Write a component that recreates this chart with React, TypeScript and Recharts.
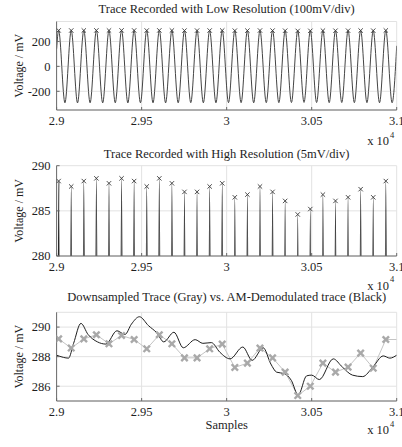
import React from 'react';
import { LineChart, Line, XAxis, YAxis, CartesianGrid } from 'recharts';

// ---------- data ----------
const sampleTicks = [29000, 29500, 30000, 30500, 31000];

const peakX = [29012, 29086, 29160, 29234, 29308, 29382, 29456, 29530, 29604, 29678, 29752, 29826, 29900, 29974,
  30048, 30122, 30196, 30270, 30344, 30418, 30492, 30566, 30640, 30714, 30788, 30862, 30936];
const peakV = [288.3, 287.7, 288.3, 288.6, 288.05, 288.6, 288.3, 287.7, 288.6, 288.05, 287.1, 287.1, 287.7, 288.05,
  286.5, 286.8, 287.7, 287.1, 286.1, 284.6, 285.2, 286.8, 286.1, 286.5, 287.4, 286.5, 288.3];
const troughX = [29049, 29123, 29197, 29271, 29345, 29419, 29493, 29567, 29641, 29715, 29789, 29863, 29937, 30011,
  30085, 30159, 30233, 30307, 30381, 30455, 30529, 30603, 30677, 30751, 30825, 30899, 30973];
const troughV = [-292, -293, -292, -293, -292, -293, -292, -292, -293, -292, -291, -292, -292, -291,
  -291, -292, -291, -291, -290, -289, -290, -291, -290, -291, -291, -292, -292];
const waveStartX = 29000;
const waveStartV = 140;
const waveEndX = 31000;
const waveEndV = 165;

const downX = [29012, 29086, 29160, 29234, 29308, 29382, 29456, 29530, 29604, 29678, 29752, 29826, 29900, 29974,
  30048, 30122, 30196, 30270, 30344, 30418, 30492, 30566, 30640, 30714, 30788, 30862, 30936, 31000];
const downV = [289.2, 288.58, 289.2, 289.48, 288.87, 289.43, 289.16, 288.53, 289.48, 288.87, 287.92, 287.92, 288.53, 288.85,
  287.27, 287.56, 288.58, 287.92, 286.95, 285.37, 286.0, 287.56, 286.95, 287.29, 288.24, 287.22, 289.16, 289.16];

const demodX = [29000, 29040, 29070, 29100, 29143, 29185, 29240, 29290, 29355, 29402, 29440, 29487, 29540, 29590,
  29630, 29690, 29745, 29815, 29860, 29910, 29960, 30020, 30095, 30150, 30215, 30260, 30294, 30340, 30380, 30421,
  30470, 30500, 30545, 30627, 30680, 30740, 30800, 30860, 30921, 30960, 31000];
const demodV = [288.1, 287.95, 287.9, 288.9, 290.25, 289.5, 289.0, 288.85, 289.75, 289.5, 290.2, 290.7, 290.1, 289.6,
  289.0, 289.65, 288.6, 289.15, 288.9, 288.95, 288.3, 287.85, 288.65, 287.75, 288.6, 287.5, 286.95, 286.85, 286.4, 285.4,
  286.7, 286.75, 286.45, 287.85, 287.3, 286.75, 286.65, 287.3, 288.05, 287.9, 288.1];

const lowTicks = [-200, 0, 200];
const highTicks = [280, 285, 290];
const demodTicks = [286, 288, 290];

// ---------- derived tables ----------
type Row = { x: number; v: number; peak?: number };
const waveRows: Row[] = [{ x: waveStartX, v: waveStartV }];
peakX.forEach((px, i) => {
  waveRows.push({ x: px, v: peakV[i], peak: peakV[i] });
  waveRows.push({ x: troughX[i], v: troughV[i] });
});
waveRows.push({ x: waveEndX, v: waveEndV });

const downRows = downX.map((x, i) => ({ x, v: downV[i] }));
const downMarks = downX.slice(0, peakX.length).map((x, i) => ({ x, v: downV[i] }));
const demodRows = demodX.map((x, i) => ({ x, v: demodV[i] }));

// ---------- styling ----------
const FONT = '"Liberation Serif", "Times New Roman", Times, serif';
const TXT = '#1e1e1e';
const AXIS = '#6a6a6a';
const GRID = '#e2e2e2';
const W = 402;
const H = 447;
const PL = 56.6;
const PR = 396.7;

const XTick = (props: any) => {
  const { x, y, payload } = props;
  const v = payload.value / 10000;
  return (
    <g>
      <line x1={x} x2={x} y1={y} y2={y - 3} stroke={AXIS} strokeWidth={1} />
      <text x={x} y={y + 15} textAnchor="middle" fontFamily={FONT} fontSize={12.5} fill={TXT}>{String(v)}</text>
    </g>
  );
};

const YTick = (props: any) => {
  const { x, y, payload } = props;
  return (
    <g>
      <line x1={x} x2={x + 3} y1={y} y2={y} stroke={AXIS} strokeWidth={1} />
      <text x={x - 6} y={y + 4.3} textAnchor="end" fontFamily={FONT} fontSize={12.5} fill={TXT}>{String(payload.value)}</text>
    </g>
  );
};

const makeCross = (half: number, color: string, sw: number) => (p: any) => {
  const { cx, cy, value, index } = p;
  if (cx == null || cy == null || value == null || Number.isNaN(cy)) return <g key={`m${index}`} />;
  return (
    <g key={`m${index}`}>
      <line x1={cx - half} y1={cy - half} x2={cx + half} y2={cy + half} stroke={color} strokeWidth={sw} />
      <line x1={cx - half} y1={cy + half} x2={cx + half} y2={cy - half} stroke={color} strokeWidth={sw} />
    </g>
  );
};

const smallCross = makeCross(2.2, '#3a3a3a', 0.9);
const grayCross = makeCross(3.2, '#a9a9a9', 2.4);

const Panel = ({ top, bottom, domain, yTicks, children }: any) => (
  <div style={{ position: 'absolute', left: 0, top: 0 }}>
    <LineChart width={W} height={H} margin={{ top, bottom: H - bottom - 20, left: 0, right: W - PR }}>
      <CartesianGrid stroke={GRID} strokeWidth={1} />
      <XAxis type="number" dataKey="x" domain={[29000, 31000]} ticks={sampleTicks} allowDataOverflow
        height={20} tickSize={0} tickMargin={0} tick={<XTick />} stroke={AXIS} interval={0} />
      <YAxis type="number" dataKey="v" domain={domain} ticks={yTicks} allowDataOverflow
        width={PL} tickSize={0} tickMargin={0} tick={<YTick />} stroke={AXIS} interval={0} />
      {children}
    </LineChart>
  </div>
);

const Titles = () => {
  const t = { fontFamily: FONT, fontSize: 12.5, fill: TXT } as any;
  const cx = (PL + PR) / 2;
  const yl = (cy: number) => (
    <text x={0} y={0} transform={`translate(22.5, ${cy}) rotate(-90)`} textAnchor="middle" {...t} fontSize={12}>Voltage / mV</text>
  );
  const exp = (base: number) => (
    <g>
      <text x={389} y={base} textAnchor="end" {...t}>x 10</text>
      <text x={390} y={base - 7.5} textAnchor="start" {...t} fontSize={8.5}>4</text>
    </g>
  );
  return (
    <svg width={W} height={H} style={{ position: 'absolute', left: 0, top: 0, pointerEvents: 'none' }}>
      <text x={cx} y={13} textAnchor="middle" {...t}>Trace Recorded with Low Resolution (100mV/div)</text>
      <text x={cx} y={157.5} textAnchor="middle" {...t}>Trace Recorded with High Resolution (5mV/div)</text>
      <text x={cx} y={300.5} textAnchor="middle" {...t}>Downsampled Trace (Gray) vs. AM-Demodulated trace (Black)</text>
      {yl(65.75)}
      {yl(210.9)}
      {yl(356.7)}
      {exp(145)}
      {exp(289.5)}
      {exp(434)}
      <text x={cx} y={429} textAnchor="middle" {...t}>Samples</text>
    </svg>
  );
};

export default function App() {
  return (
    <div style={{ position: 'absolute', left: 0, top: 0, width: W, height: H, background: '#fff', overflow: 'hidden' }}>
      <Panel top={21.5} bottom={110} domain={[-350, 360]} yTicks={lowTicks}>
        <Line data={waveRows} dataKey="v" type="monotoneX" stroke="#444444" strokeWidth={1} dot={false} isAnimationActive={false} />
        <Line data={waveRows} dataKey="peak" stroke="none" dot={smallCross} isAnimationActive={false} />
      </Panel>
      <Panel top={165.7} bottom={256} domain={[280, 290]} yTicks={highTicks}>
        <Line data={waveRows} dataKey="v" type="monotoneX" stroke="#262626" strokeWidth={1.6} dot={false} isAnimationActive={false} />
        <Line data={waveRows} dataKey="peak" stroke="none" dot={smallCross} isAnimationActive={false} />
      </Panel>
      <Panel top={312.3} bottom={401} domain={[285, 291]} yTicks={demodTicks}>
        <Line data={downRows} dataKey="v" type="linear" stroke="#c4c4c4" strokeWidth={1} dot={false} isAnimationActive={false} />
        <Line data={downMarks} dataKey="v" stroke="none" dot={grayCross} isAnimationActive={false} />
        <Line data={demodRows} dataKey="v" type="monotone" stroke="#1e1e1e" strokeWidth={1} dot={false} isAnimationActive={false} />
      </Panel>
      <Titles />
    </div>
  );
}
